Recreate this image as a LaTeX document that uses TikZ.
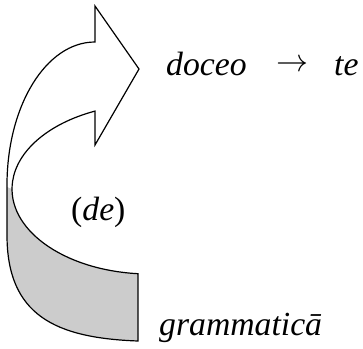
\documentclass[tikz,border=0pt]{standalone}
\usepackage{fontspec}
\setmainfont{Liberation Serif}
\usepackage{tikz}
\usetikzlibrary{positioning}

\begin{document}
\begin{tikzpicture}[
  x=1pt, y=-1pt,
  lbl/.style={inner sep=0pt, font=\fontsize{33.7}{40}\selectfont},
  band/.style={draw=black, line width=1.2pt, line join=miter},
  back/.style={fill=black!20}
]
\useasboundingbox (0,0) rectangle (363,348);
% shaded back of the turn
\fill[back] (12,189) arc[start angle=180, end angle=95, x radius=138, y radius=85]
  -- (138,341) .. controls (55,338) and (7,315) .. (7,235) -- (7,187) -- cycle;
% outline of the curved arrow
\draw[band] (95,42) .. controls (46,42) and (7,106) .. (7,185) -- (7,235)
  .. controls (7,315) and (55,338) .. (138,341) -- (138,273.7)
  arc[start angle=95, end angle=246.5, x radius=138, y radius=85]
  -- (95,145) -- (139,69) -- (95,6) -- cycle;
\node[lbl, anchor=base west] (doceo) at (166,75) {\textit{doceo}};
\node[lbl] (arrw) at (292,66) {\resizebox{32pt}{!}{$\rightarrow$}};
\node[lbl, anchor=base west] (te) at (334,75) {\textit{te}};
\node[lbl, anchor=base west] (de) at (71,220) {(\textit{de})};
\node[lbl, anchor=base west] (gram) at (159,335) {\textit{grammaticā}};
\end{tikzpicture}
\end{document}
